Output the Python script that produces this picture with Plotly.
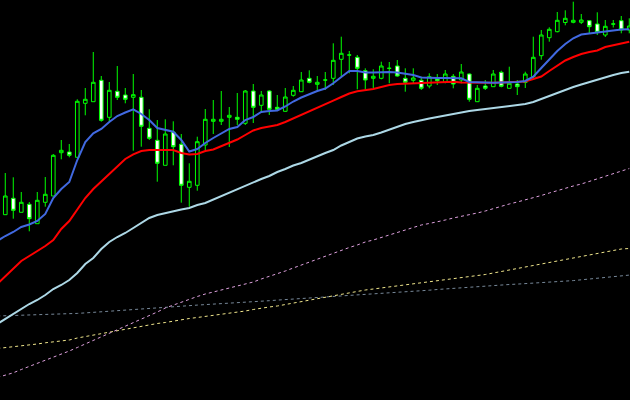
import plotly.graph_objects as go

# Candle index (bar number)
bars = list(range(0, 79))

opens = [185.3, 201.7, 187.7, 195.7, 176.3, 197.7, 204, 247.3, 248, 242.7,
         296.7, 298.3, 319.7, 282.7, 308.7, 305, 302.7, 302.7, 271.7, 259.7,
         234.7, 268, 255.7, 212.7, 214.7, 255, 278.7, 278.7, 282.7, 282.7,
         276.7, 309, 294.7, 309, 292.7, 288.7, 304.7, 308.3, 321.7, 315.7,
         320, 321.7, 340.7, 345, 342.7, 329.3, 321.7, 321.7, 331.7, 334,
         321.7, 319.7, 319.7, 314, 321.7, 317.7, 323.7, 320, 326, 298.3,
         314, 313.3, 327.7, 311.7, 316, 317.5, 323.3, 344.3, 362.3, 368.3,
         377.5, 377.7, 377.7, 379.3, 376, 365, 376, 379.3, 370]
highs = [227, 222.7, 208, 198, 208, 223, 246, 260, 256, 300.7,
         312, 348, 324, 318, 334, 312, 326, 310, 290.7, 280,
         280.7, 278.7, 266, 236.7, 263.3, 291, 300, 309, 293, 307,
         310, 316, 309, 310, 305, 312, 314, 328, 329.7, 324,
         328, 356.7, 363.3, 349, 345, 331.7, 330.7, 338.3, 338, 340,
         331.7, 331.7, 323.3, 326.7, 326, 330, 326, 336, 326.7, 315,
         320, 330, 329.3, 333.3, 320, 328.3, 363.3, 370, 372.7, 388,
         389.7, 398.3, 386, 380, 387.7, 380, 380, 384, 381.7]
lows = [185, 181.3, 187.7, 168.7, 176.3, 193.3, 204, 240.7, 242.7, 242.7,
        284.7, 298.3, 278.3, 278.3, 300, 296.7, 249.3, 253.3, 260, 218.3,
        234.7, 234.7, 197.3, 193.3, 209.3, 250, 266, 275, 253, 275,
        275, 277, 288, 285, 289, 288.3, 303.3, 308.3, 316.7, 308.3,
        310, 315, 323.3, 326.7, 310.7, 310.7, 311.7, 320.7, 316.7, 323.3,
        308.3, 316.7, 310, 311.7, 315, 316.7, 311.7, 316.7, 298.3, 298.3,
        310, 313.3, 312.7, 311.7, 305, 312, 321, 340.3, 358.3, 367.7,
        374.7, 376.7, 376, 366.7, 365, 363, 372.5, 366.7, 366.7]
closes = [204, 189.7, 197.7, 181.3, 199.7, 205.7, 244.7, 249.7, 244.7, 298.7,
          300.7, 317.7, 279.7, 309.7, 302.7, 300.7, 305.3, 273.7, 261.7, 236.7,
          266, 253.3, 214.7, 218.7, 258.3, 280.7, 280.7, 280.7, 284.7, 280.7,
          309, 292.7, 305, 290.7, 290.7, 303, 309.7, 320, 317.7, 317.7,
          320, 339.7, 346.7, 345, 331.7, 320, 323.7, 334, 331.7, 324,
          317.7, 322, 311.7, 323.3, 319.3, 326, 316, 328, 300.7, 311.7,
          311.7, 326, 313.7, 316.7, 313.3, 326, 342.7, 365, 370.7, 379.7,
          381.7, 379.7, 380, 373.3, 367.7, 373.7, 376, 370, 374]

# Moving-average lines (bar -1 .. 78)
ma_bars = list(range(-1, 79))
ma_fast = [159, 164, 168, 173, 175.5, 179, 186, 202, 211, 218, 240,
           258, 266.7, 271, 278, 284, 287.5, 290.7, 286, 280, 272,
           270.5, 268.3, 260, 248.5, 251, 257, 262, 266.5, 271, 273,
           280, 283, 288, 289, 289.5, 293.5, 298.5, 302.5, 306, 309,
           311.5, 316.7, 323, 329, 329, 327.5, 327.5, 328, 328, 327.5,
           326, 325, 322.5, 322, 322, 322, 321.7, 321.7, 318, 317.5,
           317.5, 317.3, 317.5, 317.7, 318, 319, 323.3, 332, 341, 349,
           356, 361.7, 365.5, 366.5, 367.3, 368.5, 370, 370.5, 370.7]
ma_mid = [116, 124, 132, 139, 144, 149, 154, 160, 171, 179, 190,
          202, 211, 218.5, 226, 234, 241, 245.7, 249, 250, 250,
          250, 250, 247, 245.5, 246, 249, 250.5, 254, 257, 260.5,
          265, 269.5, 272, 273.5, 275, 278, 281.5, 284.5, 288, 292,
          295.5, 299.3, 303, 306.5, 308.7, 309.7, 311, 313, 315, 316,
          316.3, 316.7, 317, 317.3, 317.7, 318.3, 318.3, 317.5, 317.3, 317.3,
          317.3, 317.3, 317.5, 317.7, 318, 318.5, 321, 323.5, 329, 334,
          339.5, 343, 346, 348, 349.5, 353, 355, 357, 358.3]
ma_slow = [76, 81, 86, 91, 96, 100, 105, 111, 115, 120, 127,
           136, 142, 151, 158, 163, 167, 172, 177, 182, 185,
           187, 189, 190.5, 192, 195, 197, 200.5, 204, 207.5, 210.5,
           214, 217.5, 221, 224, 228, 231, 234.5, 237, 240.5, 244,
           247, 250, 254.5, 258, 261.5, 263.5, 265, 267.5, 270.5, 273.5,
           276, 278, 280, 281.5, 283, 284.5, 286.5, 287.5, 289, 290,
           291, 292, 292.7, 294, 295, 296, 298, 301, 304.5, 307,
           310, 313, 315.5, 318, 320.5, 323, 325, 327, 328.3]
ma_plum = [22.5, 25, 27.2, 30.5, 33.5, 36.5, 39.5, 42.5, 45.5, 49, 52.5,
           56, 60, 63.5, 67, 70.5, 74, 77.5, 81, 84.5, 88,
           92, 95, 98, 101, 103.5, 106, 108, 110, 112, 114,
           116, 118, 121, 123.5, 126.5, 129, 132, 135, 138, 141,
           143.5, 146.5, 149.5, 152.5, 155, 158, 160, 162.5, 165, 167.5,
           170, 172.5, 175, 176.5, 178, 180, 182, 183.5, 185.5, 187,
           189, 191.5, 193.5, 196, 198, 200, 202.5, 204.5, 207, 209.5,
           211.5, 214, 216, 218.5, 221, 223.5, 226, 229, 231.5]
ma_khaki = [51.5, 52.3, 53.2, 54, 55, 56, 57.2, 58.1, 58.5, 60, 62,
            63.5, 65, 66.5, 68, 69.5, 71, 72.5, 74, 75, 76.5,
            77.5, 79, 80.2, 81.5, 82.5, 83.5, 85, 86, 87, 88,
            89, 90.5, 92, 93, 94, 95.5, 97, 98, 99.5, 101,
            102.5, 104, 105.5, 107, 108.5, 110, 111, 112, 113.5, 114.5,
            115.5, 116.5, 117.5, 118.5, 119.5, 120.5, 121.5, 122.5, 123.5, 124.5,
            125.5, 127, 128.5, 130, 131.5, 132.5, 134, 135.5, 137, 139,
            140.5, 142, 143.5, 145, 146.5, 148, 149.5, 151, 151.5]
ma_slate = [84, 84.2, 84.5, 84.8, 85, 85.2, 85.6, 85.8, 86.1, 86.4, 86.6,
            87.1, 87.7, 88.3, 88.9, 89.5, 90.1, 90.7, 91.3, 91.9, 92.6,
            93, 93.5, 94, 94.5, 94.9, 95.4, 95.8, 96.3, 96.7, 97.2,
            97.7, 98.3, 98.8, 99.3, 99.9, 100.4, 101, 101.5, 102, 102.6,
            103, 103.5, 104, 104.4, 104.9, 105.4, 105.9, 106.3, 106.8, 107.2,
            107.8, 108.5, 109.1, 109.8, 110.5, 111.1, 111.8, 112.5, 113.1, 113.8,
            114.2, 114.6, 115, 115.5, 115.9, 116.3, 116.8, 117.2, 117.6, 118,
            118.6, 119.4, 120.2, 121, 121.8, 122.6, 123.3, 124.1, 124.9]

GREEN = "#00FF00"

fig = go.Figure()
fig.add_trace(go.Candlestick(
    x=bars, open=opens, high=highs, low=lows, close=closes,
    increasing=dict(line=dict(color=GREEN, width=1), fillcolor="#000000"),
    decreasing=dict(line=dict(color=GREEN, width=1), fillcolor="#FFFFFF"),
    whiskerwidth=0, hoverinfo="skip", showlegend=False,
))

dashed = [(ma_slate, "#778899"), (ma_khaki, "#F0E68C"), (ma_plum, "#DDA0DD")]
for vals, col in dashed:
    fig.add_trace(go.Scatter(x=ma_bars, y=vals, mode="lines",
                             line=dict(color=col, width=1, dash="3px,3px"),
                             hoverinfo="skip", showlegend=False))

solid = [(ma_slow, "#ADD8E6"), (ma_mid, "#FF0000"), (ma_fast, "#4169E1")]
for vals, col in solid:
    fig.add_trace(go.Scatter(x=ma_bars, y=vals, mode="lines",
                             line=dict(color=col, width=2),
                             hoverinfo="skip", showlegend=False))

fig.update_layout(
    width=630, height=400,
    margin=dict(l=0, r=0, t=0, b=0),
    paper_bgcolor="#000000", plot_bgcolor="#000000",
    showlegend=False,
    boxgap=0.35,
    xaxis=dict(range=[-0.66, 78.09], visible=False, showgrid=False,
               zeroline=False, rangeslider=dict(visible=False)),
    yaxis=dict(range=[0, 400], visible=False, showgrid=False, zeroline=False),
)

fig.write_html(
    "out.html",
    config={"displayModeBar": False, "staticPlot": True},
    post_script="document.body.style.margin='0';document.body.style.background='#000';",
)
